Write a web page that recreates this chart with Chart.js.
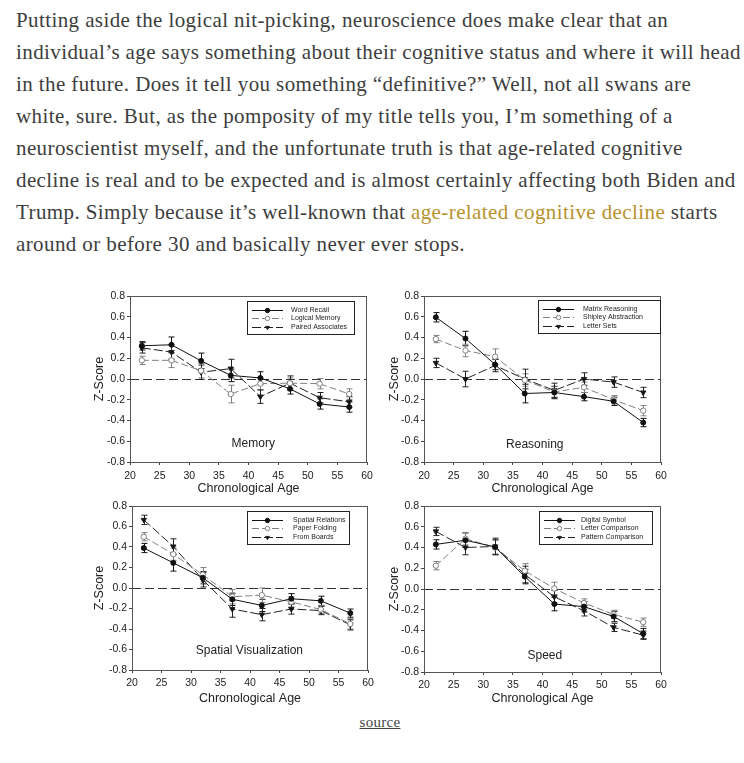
<!DOCTYPE html>
<html>
<head>
<meta charset="utf-8">
<script src="https://cdn.jsdelivr.net/npm/chart.js@4.4.0/dist/chart.umd.min.js"></script>
<style>
  html, body { margin: 0; padding: 0; background: #fff; }
  body { width: 744px; height: 763px; position: relative; overflow: hidden; }
  .para {
    position: absolute; left: 16px; top: 4px;
    font-family: "Liberation Serif", "DejaVu Serif", serif;
    font-size: 21px; line-height: 32px; color: #3d3d3d; letter-spacing: 0.4px;
  }
  .para div { white-space: nowrap; }
  .para a { color: #b8922c; text-decoration: none; }
  .panel { position: absolute; }
  .source {
    position: absolute; left: 0; width: 760px; top: 714px; text-align: center;
    font-family: "Liberation Serif", serif; font-size: 15px; color: #444; letter-spacing: 0.3px;
  }
  .source a { color: #444; text-decoration: underline; }
</style>
</head>
<body>
<div class="para">
  <div>Putting aside the logical nit-picking, neuroscience does make clear that an</div>
  <div>individual’s age says something about their cognitive status and where it will head</div>
  <div>in the future. Does it tell you something “definitive?” Well, not all swans are</div>
  <div>white, sure. But, as the pomposity of my title tells you, I’m something of a</div>
  <div>neuroscientist myself, and the unfortunate truth is that age-related cognitive</div>
  <div>decline is real and to be expected and is almost certainly affecting both Biden and</div>
  <div>Trump. Simply because it’s well-known that <a href="#">age-related cognitive decline</a> starts</div>
  <div>around or before 30 and basically never ever stops.</div>
</div>

<div class="panel" style="left:80px;top:285px;width:300px;height:215px"><canvas id="memory"></canvas></div>
<div class="panel" style="left:375px;top:285px;width:300px;height:215px"><canvas id="reasoning"></canvas></div>
<div class="panel" style="left:80px;top:495px;width:300px;height:215px"><canvas id="spatial"></canvas></div>
<div class="panel" style="left:375px;top:495px;width:300px;height:215px"><canvas id="speed"></canvas></div>

<div class="source"><a href="#">source</a></div>

<script>
// age groups (x values)
const ages = [22, 27, 32, 37, 42, 47, 52, 57];

// Memory
const memoryNames = ['Word Recall', 'Logical Memory', 'Paired Associates'];
const memoryWordRecall = [0.32, 0.33, 0.175, 0.035, 0.01, -0.095, -0.24, -0.27];
const memoryWordRecallErr = [0.04, 0.075, 0.075, 0.06, 0.06, 0.05, 0.05, 0.05];
const memoryLogical = [0.18, 0.18, 0.08, -0.145, -0.045, -0.04, -0.045, -0.145];
const memoryLogicalErr = [0.04, 0.07, 0.07, 0.085, 0.06, 0.05, 0.05, 0.05];
const memoryPaired = [0.30, 0.26, 0.065, 0.10, -0.17, -0.04, -0.18, -0.22];
const memoryPairedErr = [0.05, 0.07, 0.07, 0.09, 0.065, 0.07, 0.05, 0.05];

// Reasoning
const reasonNames = ['Matrix Reasoning', 'Shipley Abstraction', 'Letter Sets'];
const reasonMatrix = [0.595, 0.39, 0.14, -0.14, -0.13, -0.17, -0.215, -0.42];
const reasonMatrixErr = [0.045, 0.07, 0.05, 0.09, 0.06, 0.04, 0.04, 0.04];
const reasonShipley = [0.385, 0.275, 0.215, -0.01, -0.125, -0.08, -0.2, -0.305];
const reasonShipleyErr = [0.035, 0.06, 0.075, 0.06, 0.05, 0.05, 0.04, 0.05];
const reasonLetter = [0.155, 0.0, 0.13, 0.0, -0.11, 0.0, -0.03, -0.13];
const reasonLetterErr = [0.045, 0.075, 0.06, 0.095, 0.07, 0.06, 0.05, 0.05];

// Spatial Visualization
const spatialNames = ['Spatial Relations', 'Paper Folding', 'From Boards'];
const spatialRelations = [0.39, 0.245, 0.10, -0.11, -0.17, -0.105, -0.125, -0.245];
const spatialRelationsErr = [0.045, 0.08, 0.06, 0.06, 0.06, 0.05, 0.045, 0.04];
const spatialPaper = [0.50, 0.33, 0.13, -0.085, -0.07, -0.135, -0.21, -0.35];
const spatialPaperErr = [0.04, 0.06, 0.07, 0.07, 0.07, 0.05, 0.04, 0.05];
const spatialBoards = [0.665, 0.405, 0.08, -0.205, -0.26, -0.205, -0.22, -0.36];
const spatialBoardsErr = [0.045, 0.075, 0.07, 0.08, 0.06, 0.05, 0.04, 0.05];

// Speed
const speedNames = ['Digital Symbol', 'Letter Comparison', 'Pattern Comparison'];
const speedDigit = [0.43, 0.47, 0.405, 0.12, -0.145, -0.17, -0.265, -0.43];
const speedDigitErr = [0.045, 0.07, 0.07, 0.07, 0.065, 0.05, 0.05, 0.05];
const speedLetter = [0.225, 0.485, 0.40, 0.175, 0.005, -0.135, -0.245, -0.32];
const speedLetterErr = [0.04, 0.06, 0.07, 0.07, 0.06, 0.04, 0.04, 0.04];
const speedPattern = [0.555, 0.40, 0.41, 0.14, -0.075, -0.21, -0.37, -0.445];
const speedPatternErr = [0.04, 0.07, 0.08, 0.08, 0.06, 0.05, 0.04, 0.04];

// line / marker look of the three series, same in every panel
const seriesStyle = [
  { color: '#111', dash: [], point: 'circle', fill: '#111', radius: 2.5, rotation: 0 },
  { color: '#808080', dash: [7, 3], point: 'circle', fill: '#fff', radius: 2.7, rotation: 0 },
  { color: '#222', dash: [9, 3], point: 'triangle', fill: '#111', radius: 3.1, rotation: 180 },
];

const FONT = 'Arial, "Liberation Sans", sans-serif';

// box round the plot, zero line, error bars, legend box, panel name
const decorPlugin = {
  id: 'decor',
  beforeDatasetsDraw(chart) {
    const { ctx, chartArea: a, scales: { x, y } } = chart;
    const cfg = chart.options.plugins.decor;
    ctx.save();
    // zero line
    ctx.strokeStyle = '#333';
    ctx.lineWidth = 1;
    ctx.setLineDash([9, 4]);
    const y0 = Math.round(y.getPixelForValue(0)) + 0.5;
    ctx.beginPath();
    ctx.moveTo(a.left, y0);
    ctx.lineTo(a.right, y0);
    ctx.stroke();
    ctx.setLineDash([]);
    // error bars
    chart.data.datasets.forEach((ds, i) => {
      const err = cfg.errors[i];
      ctx.strokeStyle = seriesStyle[i].color;
      ds.data.forEach((p, j) => {
        const px = Math.round(x.getPixelForValue(p.x)) + 0.5;
        const top = y.getPixelForValue(p.y + err[j]);
        const bot = y.getPixelForValue(p.y - err[j]);
        ctx.beginPath();
        ctx.moveTo(px, top); ctx.lineTo(px, bot);
        ctx.moveTo(px - 3, top); ctx.lineTo(px + 3, top);
        ctx.moveTo(px - 3, bot); ctx.lineTo(px + 3, bot);
        ctx.stroke();
      });
    });
    ctx.restore();
  },
  afterDraw(chart) {
    const { ctx, chartArea: a, scales: { x, y } } = chart;
    const cfg = chart.options.plugins.decor;
    ctx.save();
    // frame
    ctx.strokeStyle = '#555';
    ctx.lineWidth = 1;
    ctx.strokeRect(Math.round(a.left) + 0.5, Math.round(a.top) + 0.5,
      Math.round(a.right - a.left) - 1, Math.round(a.bottom - a.top));
    // legend
    const bx = a.left + cfg.legend.left, by = a.top + cfg.legend.top;
    const bw = cfg.legend.width, bh = 33;
    ctx.strokeStyle = '#222';
    ctx.strokeRect(Math.round(bx) + 0.5, Math.round(by) + 0.5, bw, bh);
    ctx.font = '7px ' + FONT;
    ctx.textBaseline = 'middle';
    ctx.fillStyle = '#222';
    cfg.names.forEach((name, i) => {
      const s = seriesStyle[i];
      const ly = Math.round(by + 9 + i * 8.3) + 0.5;
      ctx.strokeStyle = s.color;
      ctx.setLineDash(s.dash);
      ctx.beginPath();
      ctx.moveTo(bx + 5, ly); ctx.lineTo(bx + 36, ly);
      ctx.stroke();
      ctx.setLineDash([]);
      ctx.fillStyle = s.fill;
      ctx.strokeStyle = s.color;
      Chart.helpers.drawPoint(ctx, { pointStyle: s.point, radius: 2.2, rotation: s.rotation, borderWidth: 1 }, bx + 20.5, ly);
      ctx.fillStyle = '#222';
      ctx.textAlign = 'left';
      ctx.fillText(name, bx + cfg.legend.textX, ly);
    });
    // panel title inside plot
    ctx.font = '12px ' + FONT;
    ctx.textAlign = 'center';
    ctx.fillStyle = '#222';
    ctx.fillText(cfg.title, x.getPixelForValue(cfg.titleX), y.getPixelForValue(cfg.titleY));
    ctx.restore();
  }
};

function makeChart(id, names, series, errors, opts) {
  const datasets = series.map((vals, i) => {
    const s = seriesStyle[i];
    return {
      label: names[i],
      data: ages.map((a, j) => ({ x: a, y: vals[j] })),
      borderColor: s.color,
      borderWidth: 1,
      borderDash: s.dash,
      pointStyle: s.point,
      pointRotation: s.rotation,
      pointRadius: s.radius,
      pointBackgroundColor: s.fill,
      pointBorderColor: s.color,
      pointBorderWidth: 1,
      tension: 0,
    };
  });
  return new Chart(document.getElementById(id), {
    type: 'line',
    data: { datasets },
    plugins: [decorPlugin],
    options: {
      responsive: true,
      maintainAspectRatio: false,
      animation: false,
      layout: { padding: { top: opts.padTop, right: opts.padRight, left: opts.padLeft, bottom: 0 } },
      plugins: {
        legend: { display: false },
        tooltip: { enabled: false },
        decor: {
          errors, names,
          legend: opts.legend,
          title: opts.title, titleX: opts.titleX, titleY: opts.titleY,
        },
      },
      scales: {
        x: {
          type: 'linear', min: 20, max: 60,
          ticks: { stepSize: 5, color: '#222', font: { size: 10.5, family: FONT }, padding: opts.xTickPad, maxRotation: 0 },
          grid: { drawOnChartArea: false, drawTicks: true, tickLength: 3, color: '#444' },
          border: { display: true, color: '#555' },
          title: { display: true, text: 'Chronological Age', color: '#222', font: { size: 12.5, family: FONT }, padding: { top: 3 } },
          afterFit: s => { s.height = opts.xHeight; },
        },
        y: {
          min: -0.8, max: 0.8,
          ticks: { stepSize: 0.2, color: '#222', font: { size: 10.5, family: FONT }, padding: 2,
            callback: v => (Math.abs(v) < 1e-9 ? 0 : v).toFixed(1) },
          grid: { drawOnChartArea: false, drawTicks: true, tickLength: 3, color: '#444' },
          border: { display: true, color: '#555' },
          title: { display: true, text: 'Z-Score', color: '#222', font: { size: 12.5, family: FONT }, padding: { bottom: 2 } },
          afterFit: s => { s.width = opts.yWidth; },
        },
      },
    },
  });
}

makeChart('memory', memoryNames,
  [memoryWordRecall, memoryLogical, memoryPaired],
  [memoryWordRecallErr, memoryLogicalErr, memoryPairedErr],
  { padTop: 11, padRight: 13, padLeft: 8, yWidth: 42, xHeight: 38, xTickPad: 5,
    legend: { left: 117, top: 5, width: 107, textX: 44 },
    title: 'Memory', titleX: 40.8, titleY: -0.62 });

makeChart('reasoning', reasonNames,
  [reasonMatrix, reasonShipley, reasonLetter],
  [reasonMatrixErr, reasonShipleyErr, reasonLetterErr],
  { padTop: 11, padRight: 14, padLeft: 8, yWidth: 41, xHeight: 38, xTickPad: 5,
    legend: { left: 114, top: 4, width: 122, textX: 45 },
    title: 'Reasoning', titleX: 38.7, titleY: -0.63 });

makeChart('spatial', spatialNames,
  [spatialRelations, spatialPaper, spatialBoards],
  [spatialRelationsErr, spatialPaperErr, spatialBoardsErr],
  { padTop: 11, padRight: 12, padLeft: 8, yWidth: 44, xHeight: 40, xTickPad: 4,
    legend: { left: 115, top: 5, width: 102, textX: 46 },
    title: 'Spatial Visualization', titleX: 39.9, titleY: -0.61 });

makeChart('speed', speedNames,
  [speedDigit, speedLetter, speedPattern],
  [speedDigitErr, speedLetterErr, speedPatternErr],
  { padTop: 11, padRight: 14, padLeft: 8, yWidth: 41, xHeight: 38, xTickPad: 4,
    legend: { left: 115, top: 5, width: 113, textX: 42 },
    title: 'Speed', titleX: 40.4, titleY: -0.64 });
</script>
</body>
</html>
